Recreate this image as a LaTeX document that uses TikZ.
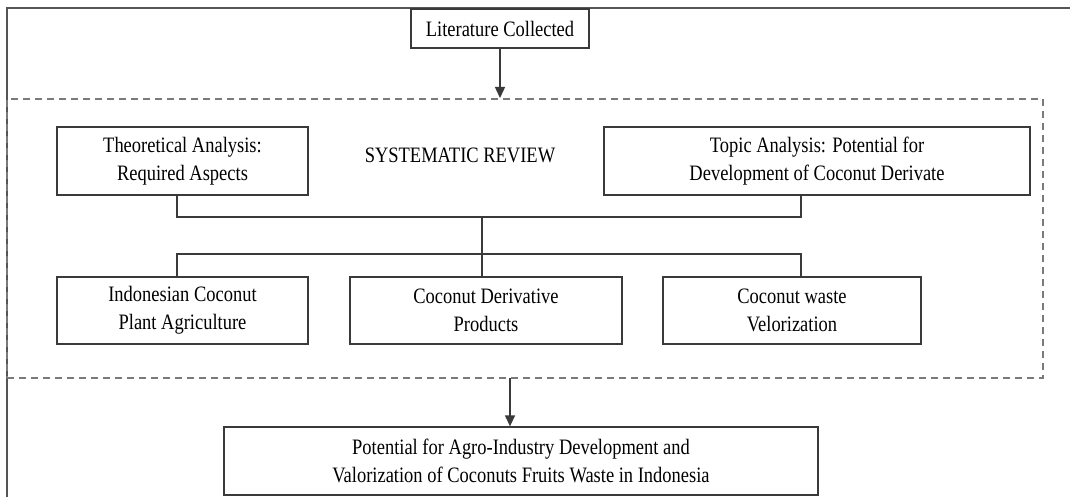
\documentclass[tikz,border=0pt]{standalone}
\usepackage{fontspec}
\setmainfont[FakeStretch=0.84]{Liberation Serif}
\usepackage{tikz}
\usetikzlibrary{arrows.meta,positioning,calc}
\definecolor{frameGray}{HTML}{555555}
\definecolor{dashGray}{HTML}{7A7A7A}
\definecolor{boxGray}{HTML}{3A3A3A}

\begin{document}
\begin{tikzpicture}[
  x=1pt, y=-1pt,
  stagebox/.style={rectangle, draw=boxGray, line width=1.3pt, fill=white,
    align=center, inner sep=0pt, font=\fontsize{22}{28}\selectfont},
  link/.style={draw=boxGray, line width=1.3pt},
  flow/.style={link, -{Triangle[length=11pt,width=10pt]}},
]
  \useasboundingbox (0,0) rectangle (1070,497);

  % Outer frame (cut by page edge)
  \draw[frameGray, line width=1.5pt] (1070,8) -- (7,8) -- (7,497);

  % Systematic review region
  \node[draw=dashGray, dashed, dash pattern=on 7pt off 5pt, line width=2pt,
        minimum width=1036pt, minimum height=279pt] (review) at (525,238.5) {};
  \node[font=\fontsize{22}{28}\selectfont] (revlabel) at (460,155) {SYSTEMATIC REVIEW};

  % Stages
  \node[stagebox, minimum width=178pt, minimum height=39pt] (lit) at (500,28.5)
    {Literature Collected};

  \node[stagebox, minimum width=251pt, minimum height=68pt] (theo) at (182.5,161)
    {Theoretical Analysis:\\Required Aspects};
  \node[stagebox, minimum width=426pt, minimum height=68pt] (topic) at (817,161)
    {Topic Analysis: Potential for\\Development of Coconut Derivate};

  \node[stagebox, minimum width=251pt, minimum height=67pt] (indo) at (182.5,310.5)
    {Indonesian Coconut\\Plant Agriculture};
  \node[stagebox, minimum width=272pt, minimum height=67pt] (deriv) at (486,310.5)
    {Coconut Derivative\\Products};
  \node[stagebox, minimum width=258pt, minimum height=67pt] (waste) at (792,310.5)
    {Coconut waste\\Velorization};

  \node[stagebox, minimum width=594pt, minimum height=68pt] (final) at (521,461)
    {Potential for Agro-Industry Development and\\Valorization of Coconuts Fruits Waste in Indonesia};

  % Junctions
  \coordinate (ldrop) at (177,0);
  \coordinate (rdrop) at (801,0);
  \coordinate (upbar) at (482,217);
  \coordinate (lowbar) at (482,254);
  \coordinate (outlet) at (510,378);

  % Connectors
  \draw[flow] (lit) -- (lit.south |- review.north);
  \draw[link] (theo.south -| ldrop) |- (upbar) -| (topic.south -| rdrop);
  \draw[link] (upbar) -- (upbar |- deriv.north);
  \draw[link] (indo.north -| ldrop) |- (lowbar) -| (waste.north -| rdrop);
  \draw[flow] (outlet) -- (outlet |- final.north);
\end{tikzpicture}
\end{document}
